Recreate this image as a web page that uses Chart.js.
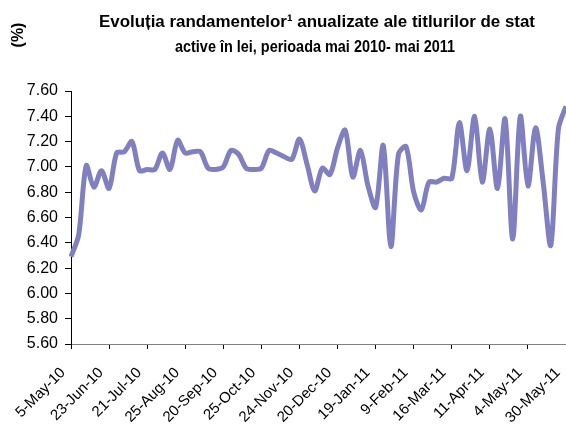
<!DOCTYPE html>
<html lang="ro">
<head>
<meta charset="UTF-8">
<title>Randamente titluri de stat</title>
<script src="https://cdn.jsdelivr.net/npm/chart.js"></script>
<style>
  html, body { margin: 0; padding: 0; background: #fff; overflow: hidden; }
  #grafic { display: block; }
</style>
</head>
<body>
<canvas id="grafic" width="566" height="425"></canvas>
<script>
  // etichetele afisate pe axa X (una la fiecare 5 observatii)
  const eticheteDate = ['5-May-10', '23-Jun-10', '21-Jul-10', '25-Aug-10', '20-Sep-10', '25-Oct-10',
    '24-Nov-10', '20-Dec-10', '19-Jan-11', '9-Feb-11', '16-Mar-11', '11-Apr-11', '4-May-11', '30-May-11'];

  // randamente anualizate (%)
  const randamente = [
    6.29, 6.46, 7.01, 6.84, 6.97, 6.83, 7.11, 7.12, 7.20, 6.97,
    6.98, 6.98, 7.11, 6.98, 7.21, 7.11, 7.12, 7.12, 6.99, 6.98,
    7.00, 7.13, 7.10, 6.99, 6.98, 6.99, 7.13, 7.11, 7.08, 7.06,
    7.22, 7.02, 6.81, 6.99, 6.94, 7.15, 7.29, 6.92, 7.13, 6.85,
    6.68, 7.17, 6.37, 7.10, 7.16, 6.80, 6.66, 6.88, 6.88, 6.91,
    6.91, 7.35, 6.97, 7.40, 6.88, 7.30, 6.83, 7.38, 6.43, 7.40,
    6.85, 7.31, 6.88, 6.38, 7.30, 7.48
  ];

  const pasEticheta = 5;
  const yMin = 5.6, yMax = 7.6, yPas = 0.2;

  const titlu = ['Evoluția randamentelor\u00B9 anualizate ale titlurilor de stat',
    'active în lei, perioada mai 2010- mai 2011'];

  const categorii = randamente.map((v, i) => i % pasEticheta === 0 ? eticheteDate[i / pasEticheta] : '');

  // titlul si "(%)" desenate separat, ca in original
  const textePlugin = {
    id: 'texte',
    afterDraw(chart) {
      const ctx = chart.ctx;
      ctx.save();
      ctx.fillStyle = '#000';
      ctx.textAlign = 'center';
      ctx.textBaseline = 'alphabetic';
      ctx.font = 'bold 17px "Liberation Sans", Arial, sans-serif';
      ctx.fillText(titlu[0], 317, 27, 436);
      ctx.font = 'bold 16px "Liberation Sans", Arial, sans-serif';
      ctx.fillText(titlu[1], 315, 52, 280);
      ctx.textBaseline = 'middle';
      ctx.translate(19, 35);
      ctx.rotate(-Math.PI / 2);
      ctx.fillText('(%)', 0, 0);
      ctx.restore();
    }
  };

  Chart.defaults.font.family = '"Liberation Sans", Arial, sans-serif';
  Chart.defaults.color = '#000';

  new Chart(document.getElementById('grafic').getContext('2d'), {
    type: 'line',
    data: {
      labels: categorii,
      datasets: [{
        data: randamente,
        borderColor: '#8080C0',
        backgroundColor: '#8080C0',
        borderWidth: 5,
        pointRadius: 0,
        tension: 0.3,
        fill: false
      }]
    },
    options: {
      responsive: false,
      animation: false,
      layout: { padding: { top: 91, right: 0, left: 0, bottom: 0 } },
      plugins: {
        legend: { display: false },
        tooltip: { enabled: false }
      },
      scales: {
        x: {
          offset: false,
          grid: { drawOnChartArea: false, tickLength: 5, color: '#000' },
          border: { color: '#808080', width: 1 },
          ticks: {
            autoSkip: false,
            minRotation: 45,
            maxRotation: 45,
            padding: 15,
            labelOffset: -8,
            font: { size: 15 },
            callback: function (val, i) {
              const e = this.getLabelForValue(val);
              return e === '' ? null : e;
            }
          },
          afterFit: function (s) { s.height = 81; s.paddingRight = 0; s.paddingLeft = 0; }
        },
        y: {
          min: yMin,
          max: yMax,
          grid: { drawOnChartArea: false, tickLength: 6, color: '#000' },
          border: { color: '#000', width: 1 },
          ticks: {
            stepSize: yPas,
            padding: 7,
            font: { size: 16 },
            callback: v => v.toFixed(2)
          },
          afterFit: function (s) { s.width = 71; }
        }
      }
    },
    plugins: [textePlugin]
  });
</script>
</body>
</html>
